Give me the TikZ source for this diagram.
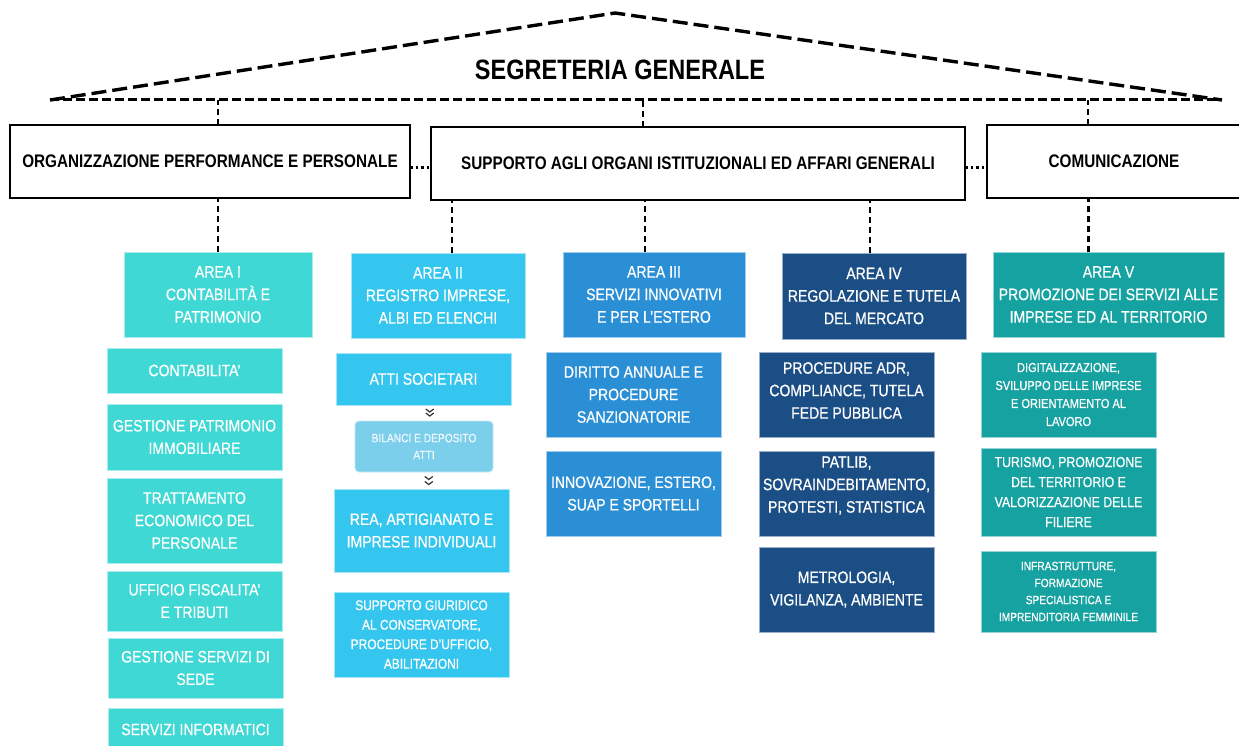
\documentclass[tikz,border=0pt]{standalone}
\usepackage{fontspec}
\setmainfont[FakeStretch=0.85]{Liberation Sans}
\newfontfamily\medfont[FakeStretch=0.85,FakeBold=0.6]{Liberation Sans}
\newfontfamily\boldfont[FakeStretch=0.84]{Liberation Sans Bold}
\usetikzlibrary{calc}
\definecolor{cA}{HTML}{3FD8D4}
\definecolor{cB}{HTML}{34C6EE}
\definecolor{cBl}{HTML}{7BCFEB}
\definecolor{cC}{HTML}{2B8FD6}
\definecolor{cD}{HTML}{1B4E84}
\definecolor{cE}{HTML}{15A2A1}
\newcommand{\bx}[7]{\node[#6, minimum width={(#4-#2)*1pt}, minimum height={(#5-#3)*1pt}] (#1) at ({(#2+#4)/2},{(#3+#5)/2}) {#7};}
\tikzset{
  topbox/.style={draw=black, line width=2pt, fill=white, inner sep=0pt, outer sep=0pt, align=center, font=\boldfont\fontsize{18.2}{22}\selectfont},
  colbox/.style={fill=#1, draw=white!55!#1, line width=0.8pt, text=white, inner sep=0pt, outer sep=0pt, align=center, font=\medfont\fontsize{16.5}{22.5}\selectfont},
  boxtext/.style={text=white, inner sep=0pt, align=center, font=\medfont\fontsize{16.5}{22.5}\selectfont},
  roofline/.style={line width=3.4pt, dash pattern=on 15pt off 6pt},
  hline/.style={line width=3pt, dash pattern=on 9pt off 4pt},
  vline/.style={line width=2.5pt, dash pattern=on 6pt off 4pt},
  dotline/.style={line width=2.5pt, dash pattern=on 2.5pt off 3pt},
  chev/.style={draw=black!80, line width=1.2pt}
}
\begin{document}
\begin{tikzpicture}[x=1pt,y=-1pt]
\useasboundingbox (0,0) rectangle (1239,746);
\fill[white] (0,0) rectangle (1239,746);
% roof
\coordinate (hL) at (50,100);
\coordinate (hR) at (1222,100);
\coordinate (peak) at (615,13);
\draw[roofline] (hL) -- (peak) -- (hR);
\draw[hline] (hL) -- (hR);
\node[font=\boldfont\fontsize{28}{30}\selectfont, inner sep=0pt] (title) at (620,70) {SEGRETERIA GENERALE};
% top boxes
\bx{org}{10}{125}{410}{198}{topbox}{ORGANIZZAZIONE PERFORMANCE E PERSONALE}
\bx{sup}{431}{127}{965}{200}{topbox}{SUPPORTO AGLI ORGANI ISTITUZIONALI ED AFFARI GENERALI}
\bx{com}{987}{125}{1241}{198}{topbox}{COMUNICAZIONE}
\draw[vline] ([xshift=8pt]org.north) -- ([xshift=8pt]org.north |- hL);
\draw[vline] ([xshift=-55pt]sup.north) -- ([xshift=-55pt]sup.north |- hL);
\draw[vline] ([xshift=-26pt]com.north) -- ([xshift=-26pt]com.north |- hL);
\draw[dotline] ([yshift=-6pt]org.east) -- ([yshift=-4pt]sup.west);
\draw[dotline] ([yshift=-4pt]sup.east) -- ([yshift=-6pt]com.west);
% areas
\bx{a1}{124}{252}{312}{337}{colbox=cA}{AREA I\\CONTABILITÀ E\\PATRIMONIO}
\bx{a2}{351}{253}{525}{338}{colbox=cB}{AREA II\\REGISTRO IMPRESE,\\ALBI ED ELENCHI}
\bx{a3}{563}{252}{745}{337}{colbox=cC}{AREA III\\SERVIZI INNOVATIVI\\E PER L’ESTERO}
\bx{a4}{782}{253}{966}{339}{colbox=cD}{AREA IV\\REGOLAZIONE E TUTELA\\DEL MERCATO}
\bx{a5}{993}{252}{1224}{337}{colbox=cE}{AREA V\\PROMOZIONE DEI SERVIZI ALLE\\IMPRESE ED AL TERRITORIO}
\path (a1.north) coordinate (t1);
\path ([xshift=14pt]a2.north) coordinate (t2);
\path ([xshift=-9pt]a3.north) coordinate (t3);
\path ([xshift=-4pt]a4.north) coordinate (t4);
\path ([xshift=-20pt]a5.north) coordinate (t5);
\draw[vline] (t1) -- (t1 |- org.south);
\draw[vline] (t2) -- (t2 |- sup.south);
\draw[vline] (t3) -- (t3 |- sup.south);
\draw[vline] (t4) -- (t4 |- sup.south);
\draw[vline] (t5) -- (t5 |- com.south);
% column I
\bx{c1}{107}{348}{282}{393}{colbox=cA}{CONTABILITA’}
\bx{c2}{107}{404}{282}{470}{colbox=cA}{GESTIONE PATRIMONIO\\IMMOBILIARE}
\bx{c3}{107}{478}{282}{563}{colbox=cA}{TRATTAMENTO\\ECONOMICO DEL\\PERSONALE}
\bx{c4}{107}{571}{282}{631}{colbox=cA}{UFFICIO FISCALITA’\\E TRIBUTI}
\bx{c5}{108}{638}{283}{698}{colbox=cA}{GESTIONE SERVIZI DI\\SEDE}
\bx{c6}{108}{708}{283}{751}{colbox=cA}{SERVIZI INFORMATICI}
% column II
\bx{b1}{336}{353}{511}{405}{colbox=cB}{ATTI SOCIETARI}
\bx{b2}{355}{421}{493}{472}{colbox=cBl, rounded corners=4pt, text=white!88!cBl, font=\medfont\fontsize{12}{17}\selectfont}{BILANCI E DEPOSITO\\ATTI}
\bx{b3}{334}{489}{509}{572}{colbox=cB}{REA, ARTIGIANATO E\\IMPRESE INDIVIDUALI}
\bx{b4}{334}{592}{509}{677}{colbox=cB, font=\medfont\fontsize{14}{19.5}\selectfont}{SUPPORTO GIURIDICO\\AL CONSERVATORE,\\PROCEDURE D’UFFICIO,\\ABILITAZIONI}
\coordinate (m1) at ($(b1.south)!0.5!(b2.north)+(6,0)$);
\coordinate (m2) at ($(b2.south)!0.5!(b3.north)+(6,0)$);
\draw[chev] ($(m1)+(-4,-4)$) -- ++(4,3) -- ++(4,-3);
\draw[chev] ($(m1)+(-4,0)$) -- ++(4,3) -- ++(4,-3);
\draw[chev] ($(m2)+(-4,-4)$) -- ++(4,3) -- ++(4,-3);
\draw[chev] ($(m2)+(-4,1)$) -- ++(4,3) -- ++(4,-3);
% column III
\bx{d1}{546}{352}{721}{437}{colbox=cC}{DIRITTO ANNUALE E\\PROCEDURE\\SANZIONATORIE}
\bx{d2}{546}{451}{721}{536}{colbox=cC}{INNOVAZIONE, ESTERO,\\SUAP E SPORTELLI}
% column IV
\bx{e1}{759}{352}{934}{437}{colbox=cD}{}
\node[boxtext, yshift=4pt] (e1t) at (e1.center) {PROCEDURE ADR,\\COMPLIANCE, TUTELA\\FEDE PUBBLICA};
\bx{e2}{759}{451}{934}{536}{colbox=cD}{}
\node[boxtext, yshift=8pt] (e2t) at (e2.center) {PATLIB,\\SOVRAINDEBITAMENTO,\\PROTESTI, STATISTICA};
\bx{e3}{759}{547}{934}{632}{colbox=cD}{METROLOGIA,\\VIGILANZA, AMBIENTE}
% column V
\bx{f1}{981}{352}{1156}{437}{colbox=cE, font=\medfont\fontsize{13}{18}\selectfont}{DIGITALIZZAZIONE,\\SVILUPPO DELLE IMPRESE\\E ORIENTAMENTO AL\\LAVORO}
\bx{f2}{981}{448}{1156}{536}{colbox=cE, font=\medfont\fontsize{14.5}{20}\selectfont}{TURISMO, PROMOZIONE\\DEL  TERRITORIO E\\VALORIZZAZIONE DELLE\\FILIERE}
\bx{f3}{981}{551}{1156}{632}{colbox=cE, font=\medfont\fontsize{12}{17}\selectfont}{INFRASTRUTTURE,\\FORMAZIONE\\SPECIALISTICA E\\IMPRENDITORIA FEMMINILE}
\end{tikzpicture}
\end{document}
